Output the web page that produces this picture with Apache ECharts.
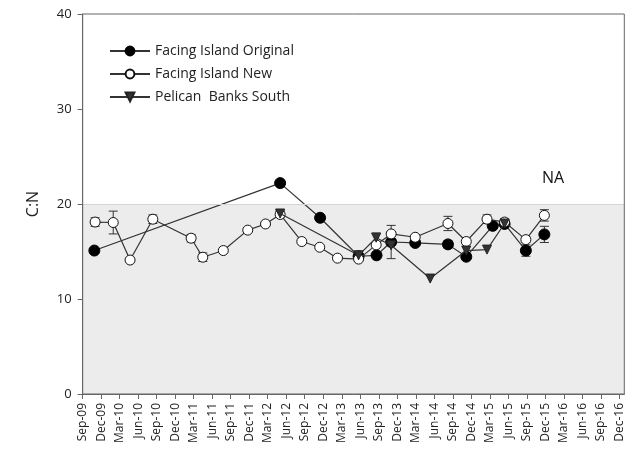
<!DOCTYPE html>
<html>
<head>
<meta charset="utf-8">
<script src="https://cdn.jsdelivr.net/npm/echarts@6/dist/echarts.min.js"></script>
<style>html,body{margin:0;padding:0;background:#fff}#c{width:634px;height:463px}</style>
</head>
<body>
<div id="c"></div>
<script>
// Tick labels (quarterly), index 0 = Sep-09
const tickLabels = ['Sep-09','Dec-09','Mar-10','Jun-10','Sep-10','Dec-10','Mar-11','Jun-11','Sep-11','Dec-11',
  'Mar-12','Jun-12','Sep-12','Dec-12','Mar-13','Jun-13','Sep-13','Dec-13','Mar-14','Jun-14',
  'Sep-14','Dec-14','Mar-15','Jun-15','Sep-15','Dec-15','Mar-16','Jun-16','Sep-16','Dec-16'];
const yTicks = [0, 10, 20, 30, 40];

// Facing Island Original (x in quarters since Sep-09)
const fioX   = [0.63, 10.67, 12.83, 14.91, 15.88, 16.67, 17.97, 19.74, 20.73, 22.16, 22.80, 23.95, 24.95];
const fioY   = [15.1, 22.2, 18.55, 14.5, 14.6, 16.0, 15.9, 15.75, 14.45, 17.7, 17.9, 15.1, 16.8];
const fioErr = [0, 0, 0, 0, 0, 0.3, 0, 0.4, 0, 0, 0, 0.6, 0.85];

// Facing Island New
const finX   = [0.67, 1.65, 2.56, 3.79, 5.86, 6.49, 7.60, 8.92, 9.88, 10.67, 11.84, 12.81, 13.77, 14.91, 15.86, 16.67, 17.97, 19.74, 20.73, 21.85, 22.80, 23.95, 24.95];
const finY   = [18.1, 18.05, 14.1, 18.4, 16.4, 14.4, 15.1, 17.25, 17.9, 18.9, 16.05, 15.45, 14.3, 14.2, 15.7, 16.85, 16.5, 17.95, 16.05, 18.4, 18.1, 16.25, 18.8];
const finErr = [0.45, 1.2, 0, 0.45, 0.4, 0.45, 0, 0, 0, 0.3, 0, 0, 0, 0, 0, 0.9, 0, 0.75, 0, 0.45, 0.35, 0.3, 0.6];

// Pelican Banks South
const pbsX   = [10.67, 14.91, 15.86, 16.67, 18.78, 20.73, 21.85, 22.80];
const pbsY   = [19.0, 14.6, 16.45, 15.65, 12.15, 15.1, 15.2, 17.95];
const pbsErr = [0.3, 0, 0.5, 1.4, 0, 0, 0, 0];

const X_MAX = 29.27;
const FONT = 'Open Sans';

function pts(xs, ys) { return xs.map((x, i) => [x, ys[i]]); }
function errs(xs, ys, es) {
  const out = [];
  xs.forEach((x, i) => { if (es[i] > 0) out.push([x, ys[i] - es[i], ys[i] + es[i]]); });
  return out;
}
function errSeries(data) {
  return {
    type: 'custom', silent: true, z: 1,
    data: data,
    renderItem: function (params, api) {
      const x = api.value(0);
      const lo = api.coord([x, api.value(1)]);
      const hi = api.coord([x, api.value(2)]);
      const w = 4.5;
      const st = { stroke: '#333', lineWidth: 1 };
      return { type: 'group', children: [
        { type: 'line', shape: { x1: lo[0], y1: lo[1], x2: hi[0], y2: hi[1] }, style: st },
        { type: 'line', shape: { x1: lo[0] - w, y1: lo[1], x2: lo[0] + w, y2: lo[1] }, style: st },
        { type: 'line', shape: { x1: hi[0] - w, y1: hi[1], x2: hi[0] + w, y2: hi[1] }, style: st }
      ]};
    }
  };
}

const chart = echarts.init(document.getElementById('c'), null, { renderer: 'canvas' });
const ints = tickLabels.map((_, i) => i);
chart.setOption({
  animation: false,
  textStyle: { fontFamily: FONT },
  grid: { left: 82.7, right: 9.7, top: 14, bottom: 69, show: true, borderColor: '#666', borderWidth: 1, z: 10 },
  legend: {
    orient: 'vertical', left: 104, top: 39, itemWidth: 40, itemHeight: 11, itemGap: 9,
    textStyle: { fontSize: 14, color: '#222', fontFamily: FONT },
    data: ['Facing Island Original', 'Facing Island New', 'Pelican  Banks South']
  },
  xAxis: {
    type: 'value', min: 0, max: X_MAX, z: 10,
    splitLine: { show: false },
    axisLine: { lineStyle: { color: '#666' } },
    axisTick: { show: true, length: 5, lineStyle: { color: '#666' }, customValues: ints },
    axisLabel: { rotate: 90, fontSize: 12, color: '#222', margin: 9, customValues: ints,
      formatter: v => tickLabels[Math.round(v)] || '' }
  },
  yAxis: {
    type: 'value', min: 0, max: 40, interval: 10, z: 10,
    name: 'C:N', nameLocation: 'middle', nameGap: 41, nameRotate: 90,
    nameTextStyle: { fontSize: 16, color: '#222', fontFamily: FONT },
    splitLine: { show: false },
    axisLine: { show: true, lineStyle: { color: '#666' } },
    axisTick: { show: true, length: 5, lineStyle: { color: '#666' } },
    axisLabel: { fontSize: 13, color: '#222', margin: 11, formatter: v => yTicks.includes(v) ? String(v) : '' }
  },
  graphic: [{ type: 'text', left: 542, top: 170, style: { text: 'NA', fontSize: 16, fill: '#111', fontFamily: FONT } }],
  series: [
    {
      type: 'line', silent: true, data: [], z: 0,
      markArea: { silent: true, itemStyle: { color: '#ececec' }, data: [[{ xAxis: 0, yAxis: 0 }, { xAxis: X_MAX, yAxis: 20 }]] },
      markLine: { silent: true, symbol: 'none', label: { show: false }, lineStyle: { color: '#d4d4d4', width: 1, type: 'solid' }, data: [{ yAxis: 20 }] }
    },
    errSeries(errs(fioX, fioY, fioErr)),
    errSeries(errs(finX, finY, finErr)),
    errSeries(errs(pbsX, pbsY, pbsErr)),
    {
      name: 'Facing Island Original', type: 'line', data: pts(fioX, fioY), z: 3,
      symbol: 'circle', symbolSize: 11,
      itemStyle: { color: '#000', borderColor: '#000', borderWidth: 1 },
      lineStyle: { color: '#333', width: 1.2 }
    },
    {
      name: 'Facing Island New', type: 'line', data: pts(finX, finY), z: 4,
      symbol: 'circle', symbolSize: 10,
      itemStyle: { color: '#fff', borderColor: '#111', borderWidth: 1 },
      lineStyle: { color: '#333', width: 1.2 }
    },
    {
      name: 'Pelican  Banks South', type: 'line', data: pts(pbsX, pbsY), z: 5,
      symbol: 'triangle', symbolRotate: 180, symbolSize: 9,
      itemStyle: { color: '#333', borderColor: '#222', borderWidth: 1 },
      lineStyle: { color: '#333', width: 1.2 }
    }
  ]
});
</script>
</body>
</html>
